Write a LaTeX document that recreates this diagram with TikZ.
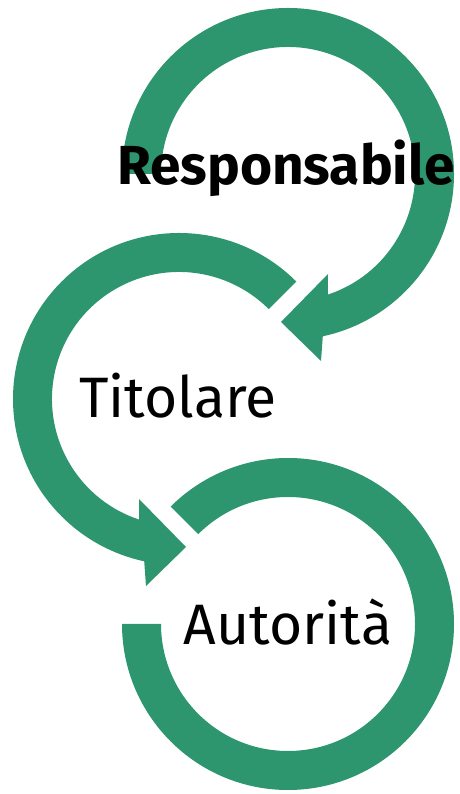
\documentclass[tikz,border=0pt]{standalone}
\usepackage{fontspec}
\setmainfont{Fira Sans}
\usetikzlibrary{calc}
\definecolor{ringgreen}{RGB}{46,150,111}
\tikzset{
  ring/.style={fill=ringgreen, draw=none},
  label/.style={font=\fontsize{57}{60}\selectfont, text=black, inner sep=0pt, anchor=base}
}
\begin{document}
\begin{tikzpicture}[x=1pt,y=1pt]
\useasboundingbox (0,0) rectangle (459,794);
\coordinate (c1) at (288,620);
\coordinate (c2) at (179,395);
\coordinate (c3) at (288,170);
% circle 1 with arrow
\coordinate (a1o) at (321,433);
\coordinate (a1t) at (281,472);
\coordinate (a1i) at (328,520);
\fill[ring] ($(c1)+(180:166)$) arc[start angle=180, end angle=-77.9, radius=166pt]
  -- (a1o) -- (a1t) -- (a1i)
  -- ($(c1)+(-71.7:127)$) arc[start angle=-71.7, end angle=180, radius=127pt] -- cycle;
% circle 2 with arrow
\coordinate (a2o) at (146,208);
\coordinate (a2t) at (186,247);
\coordinate (a2i) at (139,295);
\fill[ring] ($(c2)+(45:166)$) arc[start angle=45, end angle=257.9, radius=166pt]
  -- (a2o) -- (a2t) -- (a2i)
  -- ($(c2)+(251.7:127)$) arc[start angle=251.7, end angle=45, radius=127pt] -- cycle;
% circle 3
\fill[ring] ($(c3)+(-180:166)$) arc[start angle=-180, end angle=135, radius=166pt]
  -- ($(c3)+(135:127)$) arc[start angle=135, end angle=-180, radius=127pt] -- cycle;
% labels
\node[label, font=\fontsize{55}{58}\selectfont\bfseries] (t1) at (286,609) {Responsabile};
\node[label] (t2) at (178,376) {Titolare};
\node[label] (t3) at (288,149) {Autorità};
\end{tikzpicture}
\end{document}
